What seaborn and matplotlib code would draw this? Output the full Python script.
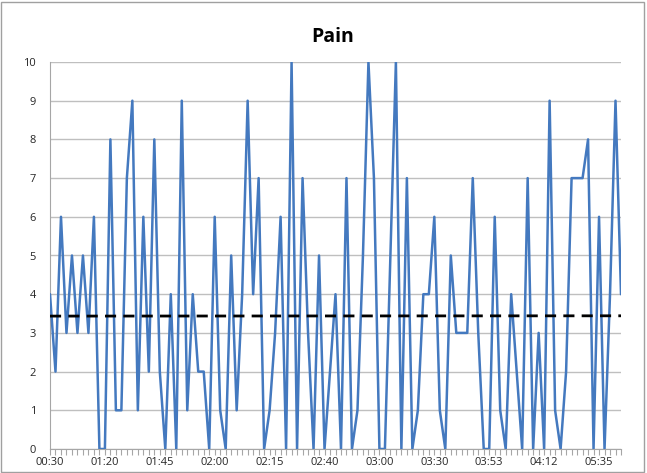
import numpy as np
import pandas as pd
import matplotlib
matplotlib.use("Agg")
import matplotlib.pyplot as plt
import seaborn as sns

# pain score per reading
pain = [4, 2, 6, 3, 5, 3, 5, 3, 6, 0,
        0, 8, 1, 1, 7, 9, 1, 6, 2, 8,
        2, 0, 4, 0, 9, 1, 4, 2, 2, 0,
        6, 1, 0, 5, 1, 4, 9, 4, 7, 0,
        1, 3, 6, 0, 10, 0, 7, 3, 0, 5,
        0, 2, 4, 0, 7, 0, 1, 5, 10, 7,
        0, 0, 5, 10, 0, 7, 0, 1, 4, 4,
        6, 1, 0, 5, 3, 3, 3, 7, 3, 0,
        0, 6, 1, 0, 4, 2, 0, 7, 0, 3,
        0, 9, 1, 0, 2, 7, 7, 7, 8, 0,
        6, 0, 4, 9, 4]

# every tenth reading gets a time label
time_labels = ["00:30", "01:20", "01:45", "02:00", "02:15", "02:40",
               "03:00", "03:30", "03:53", "04:12", "05:35"]
label_step = 10

df = pd.DataFrame({"reading": np.arange(len(pain)), "pain": pain})

# linear trend line like excel's
coef = np.polyfit(df["reading"], df["pain"], 1)
df["trend"] = np.polyval(coef, df["reading"])

sns.set_theme(style="white")
plt.rcParams["font.family"] = ["Open Sans", "DejaVu Sans"]

fig = plt.figure(figsize=(6.47, 4.73), dpi=100)
ax = fig.add_axes([50 / 647, 24 / 473, 571 / 647, 387 / 473])

sns.lineplot(data=df, x="reading", y="pain", ax=ax, color="#4479BF",
             linewidth=1.8, zorder=3)
sns.lineplot(data=df, x="reading", y="trend", ax=ax, color="black",
             linewidth=2.0, zorder=4, dashes=False)
ax.lines[-1].set_dashes((4, 2.6))

ax.set_xlim(0, len(pain) - 1)
ax.set_ylim(0, 10)
ax.set_yticks(range(0, 11))
ax.yaxis.grid(True, color="#BFBFBF", linewidth=1.0)
ax.set_xticks(np.arange(0, len(pain), label_step))
ax.set_xticklabels(time_labels)
ax.set_xticks(np.arange(len(pain)), minor=True)
ax.tick_params(axis="x", which="both", direction="out", bottom=True,
               color="#A6A6A6", length=4, width=0.8, pad=2)
ax.tick_params(axis="y", left=False, pad=4)
ax.tick_params(labelsize=8, labelcolor="#262626")
ax.set_xlabel("")
ax.set_ylabel("")

for side in ["top", "right"]:
    ax.spines[side].set_visible(False)
for side in ["left", "bottom"]:
    ax.spines[side].set_color("#A6A6A6")
    ax.spines[side].set_linewidth(0.8)

fig.text(333 / 647, 1 - 37 / 473, "Pain", ha="center", va="center",
         fontsize=14, fontweight="bold", color="black")

# chart area border
fig.patches.append(plt.Rectangle((0.002, 0.002), 0.994, 0.994,
                                 transform=fig.transFigure, fill=False,
                                 edgecolor="#A0A0A0", linewidth=1.0))

fig.savefig("out.png", dpi=100)
